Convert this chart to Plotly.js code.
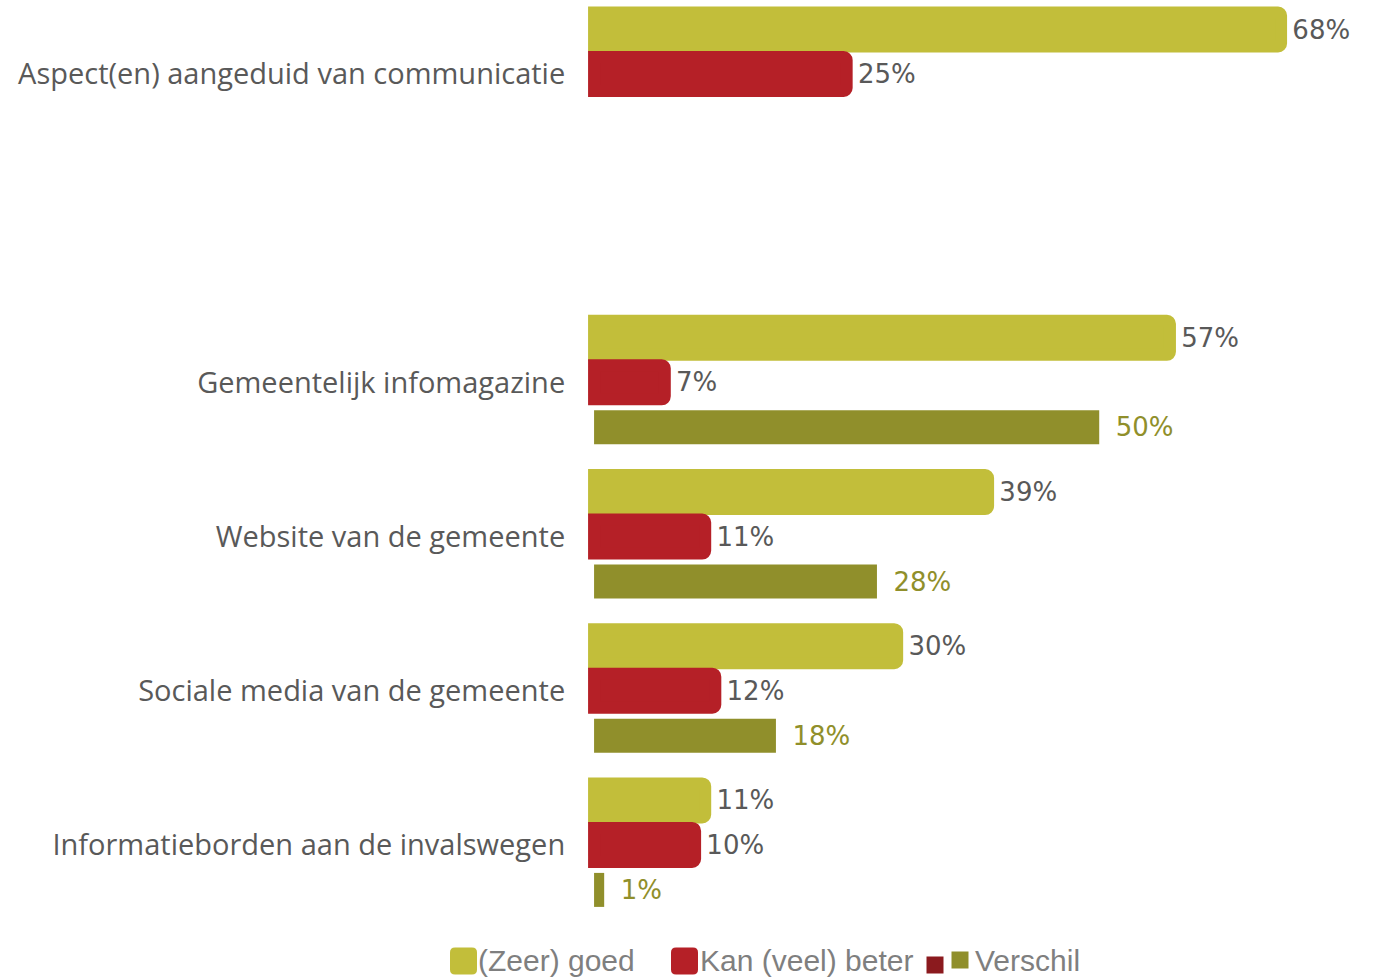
<!DOCTYPE html>
<html>
<head>
<meta charset="utf-8">
<script src="https://cdn.plot.ly/plotly-3.0.1.min.js"></script>
<style>
  body { margin: 0; background: #fff; }
  #plot { width: 1375px; height: 977px; }
</style>
</head>
<body>
<div id="plot"></div>
<script>
// rows top to bottom, slot 1 is the empty gap row
var categories = [
  "Aspect(en) aangeduid van communicatie",
  "Gemeentelijk infomagazine",
  "Website van de gemeente",
  "Sociale media van de gemeente",
  "Informatieborden aan de invalswegen"
];
var rowPos = [0, 2, 3, 4, 5];

var goed = [68, 57, 39, 30, 11];
var beter = [25, 7, 11, 12, 10];
var verschil = [null, 50, 28, 18, 1];

var legendNames = ["(Zeer) goed", "Kan (veel) beter", "Verschil"];

var goedColor = "#c2be3a";
var beterColor = "#b52027";
var verschilColor = "#908f2b";
var darkRed = "#8b1a1e";
var labelFont = "Open Sans, sans-serif";
var valueFont = "DejaVu Sans, sans-serif";

function pct(arr, pad) {
  // leading spaces push the label away from the bar end
  return arr.map(function (v) { return v === null ? "" : pad + v + "%"; });
}

var barH = 0.2205;   // fill height in slot units (34px)
var lineW = 12;      // outline in the same colour makes the first two bars 46px tall

var traceGoed = {
  type: "bar",
  orientation: "h",
  name: legendNames[0],
  x: goed,
  y: rowPos,
  width: barH,
  offset: -0.2886 - barH / 2,
  marker: { color: goedColor, cornerradius: 3, line: { color: goedColor, width: lineW } },
  text: pct(goed, "\u00a0"),
  textposition: "outside",
  textfont: { color: "#595959", size: 26, family: valueFont },
  cliponaxis: false
};

var traceBeter = {
  type: "bar",
  orientation: "h",
  name: legendNames[1],
  x: beter,
  y: rowPos,
  width: barH,
  offset: -barH / 2,
  marker: { color: beterColor, cornerradius: 3, line: { color: beterColor, width: lineW } },
  text: pct(beter, "\u00a0"),
  textposition: "outside",
  textfont: { color: "#595959", size: 26, family: valueFont },
  cliponaxis: false
};

var traceVerschil = {
  type: "bar",
  orientation: "h",
  name: legendNames[2],
  x: verschil,
  y: rowPos,
  width: barH,
  offset: 0.2918 - barH / 2,
  marker: { color: verschilColor },
  text: pct(verschil, "\u00a0\u2009"),
  textposition: "outside",
  textfont: { color: verschilColor, size: 26, family: valueFont },
  cliponaxis: false
};

// hand-made legend below the plot (paper coords: plot is 785 x 922 px, left at 587)
var L = 587, W = 785, H = 922;
function px(x) { return (x - L) / W; }
function py(y) { return 1 - y / H; }

function square(cx, cy, size, r, color) {
  var h = size / 2;
  var p = "M" + (-h + r) + "," + (-h) +
    " L" + (h - r) + "," + (-h) + " Q" + h + "," + (-h) + " " + h + "," + (-h + r) +
    " L" + h + "," + (h - r) + " Q" + h + "," + h + " " + (h - r) + "," + h +
    " L" + (-h + r) + "," + h + " Q" + (-h) + "," + h + " " + (-h) + "," + (h - r) +
    " L" + (-h) + "," + (-h + r) + " Q" + (-h) + "," + (-h) + " " + (-h + r) + "," + (-h) + " Z";
  return {
    type: "path", xref: "paper", yref: "paper",
    xsizemode: "pixel", ysizemode: "pixel",
    xanchor: px(cx), yanchor: py(cy),
    path: p, fillcolor: color, line: { width: 0 }
  };
}

function legendText(x, txt) {
  return {
    xref: "paper", yref: "paper", x: px(x), y: py(961),
    xanchor: "left", yanchor: "middle", showarrow: false,
    text: txt,
    font: { family: "Liberation Sans, Arial, sans-serif", size: 30, color: "#7f7f7f" }
  };
}

var layout = {
  width: 1375,
  height: 977,
  margin: { l: L, r: 3, t: 0, b: 55 },
  barmode: "overlay",
  showlegend: false,
  paper_bgcolor: "#fff",
  plot_bgcolor: "#fff",
  font: { family: labelFont, color: "#595959" },
  xaxis: {
    range: [-0.7, 77],
    showgrid: false,
    zeroline: false,
    showticklabels: false,
    showline: false,
    fixedrange: true
  },
  yaxis: {
    range: [5.5, -0.48],
    tickvals: rowPos,
    ticktext: categories,
    ticks: "outside",
    ticklen: 15,
    tickcolor: "rgba(0,0,0,0)",
    tickfont: { size: 29, color: "#595959", family: labelFont },
    showgrid: false,
    zeroline: false,
    showline: false,
    fixedrange: true
  },
  shapes: [
    square(463.5, 961, 27, 5, goedColor),
    square(684.5, 961, 27, 5, beterColor),
    square(935, 965, 17, 0, darkRed),
    square(960, 960, 17, 0, verschilColor)
  ],
  annotations: [
    legendText(476, legendNames[0]),
    legendText(698, legendNames[1]),
    legendText(973, legendNames[2])
  ]
};

Plotly.newPlot("plot", [traceGoed, traceBeter, traceVerschil], layout, { displayModeBar: false, staticPlot: true });
</script>
</body>
</html>
